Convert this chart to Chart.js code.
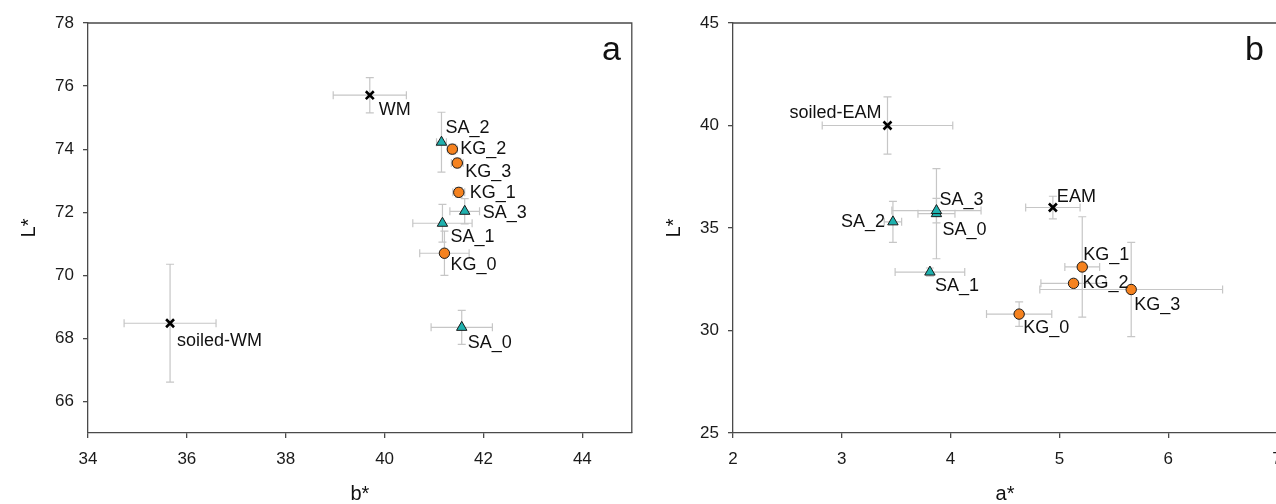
<!doctype html>
<html lang="en">
    <head>
        <meta charset="UTF-8" />
        <title>L* versus b* and a*</title>
        <style>
            html, body { margin: 0; padding: 0; background: #fff; overflow: hidden; }
            .wrap { position: relative; width: 1276px; height: 504px; overflow: hidden; }
            #chartA { position: absolute; left: 0; top: 0; }
            #chartB { position: absolute; left: 640px; top: 0; }
        </style>
    </head>
    <body>
        <div class="wrap">
            <canvas id="chartA" width="640" height="504"></canvas>
            <canvas id="chartB" width="657" height="504"></canvas>
        </div>

        <script src="https://cdn.jsdelivr.net/npm/chart.js@4.4.1/dist/chart.umd.min.js"></script>
        <script>
            // panel a: L* against b*
            const aNames = ["WM", "soiled-WM", "SA_0", "SA_1", "SA_2", "SA_3", "KG_0", "KG_1", "KG_2", "KG_3"];
            const aX = [39.70, 35.66, 41.56, 41.17, 41.15, 41.62, 41.21, 41.50, 41.37, 41.47];
            const aY = [75.71, 68.48, 68.35, 71.65, 74.22, 72.03, 70.70, 72.63, 74.00, 73.56];
            const aXErr = [0.74, 0.93, 0.62, 0.60, 0.10, 0.30, 0.50, 0.12, 0.10, 0.12];
            const aYErr = [0.56, 1.87, 0.54, 0.60, 0.95, 0.40, 0.70, 0.15, 0.15, 0.15];
            const aXTicks = [34, 36, 38, 40, 42, 44];
            const aYTicks = [66, 68, 70, 72, 74, 76, 78];

            // panel b: L* against a*
            const bNames = ["EAM", "soiled-EAM", "SA_0", "SA_1", "SA_2", "SA_3", "KG_0", "KG_1", "KG_2", "KG_3"];
            const bX = [4.94, 3.42, 3.87, 3.81, 3.47, 3.87, 4.63, 5.21, 5.13, 5.66];
            const bY = [36.0, 40.0, 35.7, 32.85, 35.3, 35.85, 30.8, 33.1, 32.3, 32.0];
            const bXErr = [0.25, 0.60, 0.17, 0.32, 0.08, 0.41, 0.30, 0.16, 0.30, 0.84];
            const bYErr = [0.55, 1.40, 2.20, 0.20, 1.00, 0.60, 0.60, 2.45, 0.15, 2.30];
            const bXTicks = [2, 3, 4, 5, 6, 7];
            const bYTicks = [25, 30, 35, 40, 45];

            // where each point label sits relative to its marker (px), negative dx = text to the left
            const aLabelOffset = [[9, 15], [7, 18], [6, 16], [8, 14], [4, -14], [18, 2], [6, 12], [11, 1], [8, 0], [8, 9]];
            const bLabelOffset = [[4, -10], [-6, -12], [6, 16], [5, 14], [-8, 0], [3, -11], [4, 14], [1, -12], [9, 0], [3, 16]];

            const FONT = "'Liberation Sans', Arial, sans-serif";
            const ORANGE = "#f5821f";
            const TEAL = "#1fb1ae";
            const ERR_COLOR = "#c6c6c6";
            const AXIS_COLOR = "#4a4a4a";

            function buildDatasets(names, xs, ys, xErr, yErr, offsets) {
                const groups = { ref: [], sa: [], kg: [] };
                for (let i = 0; i < names.length; ++i) {
                    const p = { x: xs[i], y: ys[i], xErr: xErr[i], yErr: yErr[i], name: names[i], off: offsets[i] };
                    if (names[i].startsWith("SA")) groups.sa.push(p);
                    else if (names[i].startsWith("KG")) groups.kg.push(p);
                    else groups.ref.push(p);
                }
                return [
                    {
                        data: groups.sa,
                        pointStyle: "triangle",
                        pointRadius: 6,
                        backgroundColor: TEAL,
                        borderColor: "#1a1a1a",
                        borderWidth: 1,
                    },
                    {
                        data: groups.kg,
                        pointStyle: "circle",
                        pointRadius: 5.2,
                        backgroundColor: ORANGE,
                        borderColor: "#1a1a1a",
                        borderWidth: 1,
                    },
                    {
                        data: groups.ref,
                        pointStyle: "crossRot",
                        pointRadius: 5.6,
                        backgroundColor: "#000",
                        borderColor: "#000",
                        borderWidth: 2.6,
                    },
                ];
            }

            // error bars under the markers, drawn through the scales
            const errorBars = {
                id: "errorBars",
                beforeDatasetsDraw(chart) {
                    const ctx = chart.ctx;
                    const xs = chart.scales.x;
                    const ys = chart.scales.y;
                    const cap = 4;
                    ctx.save();
                    ctx.strokeStyle = ERR_COLOR;
                    ctx.lineWidth = 1.2;
                    chart.data.datasets.forEach((ds) => {
                        ds.data.forEach((p) => {
                            const cx = xs.getPixelForValue(p.x);
                            const cy = ys.getPixelForValue(p.y);
                            const x0 = xs.getPixelForValue(p.x - p.xErr);
                            const x1 = xs.getPixelForValue(p.x + p.xErr);
                            const y0 = ys.getPixelForValue(p.y - p.yErr);
                            const y1 = ys.getPixelForValue(p.y + p.yErr);
                            ctx.beginPath();
                            ctx.moveTo(x0, cy); ctx.lineTo(x1, cy);
                            ctx.moveTo(x0, cy - cap); ctx.lineTo(x0, cy + cap);
                            ctx.moveTo(x1, cy - cap); ctx.lineTo(x1, cy + cap);
                            ctx.moveTo(cx, y0); ctx.lineTo(cx, y1);
                            ctx.moveTo(cx - cap, y0); ctx.lineTo(cx + cap, y0);
                            ctx.moveTo(cx - cap, y1); ctx.lineTo(cx + cap, y1);
                            ctx.stroke();
                        });
                    });
                    ctx.restore();
                },
            };

            // point names, frame and panel letter
            const decorations = {
                id: "decorations",
                afterDatasetsDraw(chart, args, opts) {
                    const ctx = chart.ctx;
                    const area = chart.chartArea;
                    const xs = chart.scales.x;
                    const ys = chart.scales.y;
                    ctx.save();
                    ctx.font = "18px " + FONT;
                    ctx.fillStyle = "#111";
                    ctx.textBaseline = "middle";
                    chart.data.datasets.forEach((ds) => {
                        ds.data.forEach((p) => {
                            const px = xs.getPixelForValue(p.x);
                            const py = ys.getPixelForValue(p.y);
                            ctx.textAlign = p.off[0] < 0 ? "right" : "left";
                            ctx.fillText(p.name, px + p.off[0], py + p.off[1]);
                        });
                    });

                    ctx.strokeStyle = AXIS_COLOR;
                    ctx.lineWidth = 1.3;
                    ctx.beginPath();
                    ctx.moveTo(area.left, area.top);
                    ctx.lineTo(area.right, area.top);
                    ctx.lineTo(area.right, area.bottom);
                    ctx.stroke();

                    ctx.font = "34px " + FONT;
                    ctx.fillStyle = "#111";
                    ctx.textAlign = "right";
                    ctx.textBaseline = "alphabetic";
                    ctx.fillText(opts.letter, area.right - opts.letterGap, area.top + 37);
                    ctx.restore();
                },
            };

            function makeChart(id, cfg) {
                const tickFont = { family: FONT, size: 17 };
                const titleFont = { family: FONT, size: 20 };
                return new Chart(document.getElementById(id), {
                    type: "scatter",
                    data: {
                        datasets: buildDatasets(cfg.names, cfg.xs, cfg.ys, cfg.xErr, cfg.yErr, cfg.offsets),
                    },
                    options: {
                        responsive: false,
                        animation: false,
                        layout: { padding: { top: 23, right: cfg.padRight, bottom: 0, left: 0 } },
                        plugins: {
                            legend: { display: false },
                            tooltip: { enabled: false },
                            decorations: { letter: cfg.letter, letterGap: cfg.letterGap },
                        },
                        scales: {
                            x: {
                                type: "linear",
                                min: cfg.xMin,
                                max: cfg.xMax,
                                afterBuildTicks: (s) => { s.ticks = cfg.xTicks.map((v) => ({ value: v })); },
                                afterFit: (s) => { s.height = 71; },
                                grid: { drawOnChartArea: false, drawTicks: true, tickLength: 5, color: AXIS_COLOR, lineWidth: 1.3 },
                                border: { display: true, color: AXIS_COLOR, width: 1.3 },
                                ticks: { font: tickFont, color: "#1a1a1a", padding: 11, maxRotation: 0 },
                                title: { display: true, text: cfg.xTitle, font: titleFont, color: "#111", padding: { top: 0, bottom: -2 } },
                            },
                            y: {
                                type: "linear",
                                min: cfg.yMin,
                                max: cfg.yMax,
                                afterBuildTicks: (s) => { s.ticks = cfg.yTicks.map((v) => ({ value: v })); },
                                afterFit: (s) => { s.width = cfg.yAxisWidth; },
                                grid: { drawOnChartArea: false, drawTicks: true, tickLength: 5, color: AXIS_COLOR, lineWidth: 1.3 },
                                border: { display: true, color: AXIS_COLOR, width: 1.3 },
                                ticks: { font: tickFont, color: "#1a1a1a", padding: 9 },
                                title: { display: true, text: "L*", font: titleFont, color: "#111", padding: { top: cfg.yTitlePad, bottom: 0 } },
                            },
                        },
                    },
                    plugins: [errorBars, decorations],
                });
            }

            makeChart("chartA", {
                names: aNames, xs: aX, ys: aY, xErr: aXErr, yErr: aYErr, offsets: aLabelOffset,
                xMin: 34, xMax: 45, yMin: 65, yMax: 78, xTicks: aXTicks, yTicks: aYTicks,
                xTitle: "b*", letter: "a", letterGap: 11, padRight: 7, yAxisWidth: 88, yTitlePad: 17,
            });

            makeChart("chartB", {
                names: bNames, xs: bX, ys: bY, xErr: bXErr, yErr: bYErr, offsets: bLabelOffset,
                xMin: 2, xMax: 7, yMin: 25, yMax: 45, xTicks: bXTicks, yTicks: bYTicks,
                xTitle: "a*", letter: "b", letterGap: 13, padRight: 20, yAxisWidth: 93, yTitlePad: 22,
            });
        </script>
    </body>
</html>
